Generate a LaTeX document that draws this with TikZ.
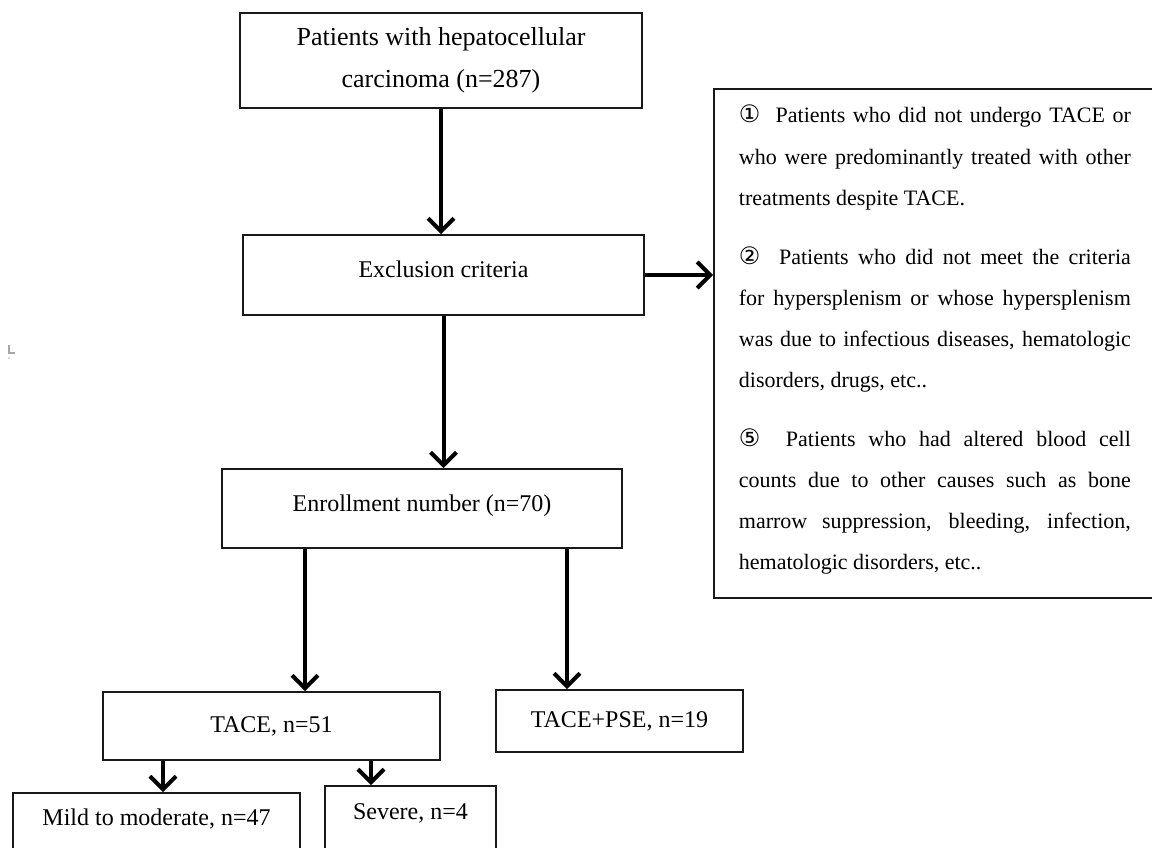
\documentclass[tikz,border=0pt]{standalone}
\usepackage{fontspec}
\setmainfont{Liberation Serif}
\newfontfamily\circfont{DejaVu Sans}
\usetikzlibrary{arrows.meta}
\newcommand\circd[1]{{\circfont\fontsize{24}{41.2}\selectfont #1}}
\begin{document}
\begin{tikzpicture}[x=1pt,y=-1pt,
  box/.style={draw=black!90, line width=1.8pt, rectangle, inner sep=0pt, align=center},
  flow/.style={line width=4pt, -{Straight Barb[length=13pt,width=26pt]}},
]
\useasboundingbox (0,0) rectangle (1152,847);
\clip (0,0) rectangle (1152,847);
\fill[white] (0,0) rectangle (1152,847);

% stray mark
\draw[gray!70, line width=1.2pt] (9,345) -- (9,353) -- (15,353);
\fill[gray!60] (9,358) circle (0.8);

\node[box, minimum width=402pt, minimum height=95pt, font=\fontsize{26}{42}\selectfont] (b1) at (441,60.5) {Patients with hepatocellular\\carcinoma (n=287)};

\node[box, minimum width=401pt, minimum height=80pt, text height=16pt, text depth=11pt, font=\fontsize{24}{30}\selectfont] (b2) at (443.5,275) {Exclusion criteria};

\node[box, minimum width=400pt, minimum height=79pt, text height=16pt, text depth=11pt, font=\fontsize{24}{30}\selectfont] (b3) at (422,508.5) {Enrollment number (n=70)};

\node[box, minimum width=337pt, minimum height=68pt, font=\fontsize{24}{30}\selectfont] (t1) at (271.5,726) {TACE, n=51};

\node[box, minimum width=247pt, minimum height=62pt, font=\fontsize{24}{30}\selectfont] (t2) at (619.5,721) {TACE+PSE, n=19};

\node[box, anchor=north, minimum width=287pt, text height=33pt, text depth=80pt, font=\fontsize{24}{30}\selectfont] (m1) at (156.5,792) {Mild to moderate, n=47};

\node[box, anchor=north, minimum width=171pt, text height=34pt, text depth=80pt, font=\fontsize{24}{30}\selectfont] (m2) at (410.5,785) {Severe, n=4};

\node[box, anchor=north west, inner xsep=25pt, inner ysep=0pt, font=\fontsize{22}{41.2}\selectfont] (ex) at (713,88) {\parbox[c][509pt][t]{392pt}{\setlength{\parindent}{0pt}\setlength{\parskip}{17.5pt}%
\rule{0pt}{34pt}\circd{①}\ \ Patients who did not undergo TACE or\linebreak who were predominantly treated with other\linebreak treatments despite TACE.\par
\circd{②}\ \ Patients who did not meet the criteria\linebreak for hypersplenism or whose hypersplenism\linebreak was due to infectious diseases, hematologic\linebreak disorders, drugs, etc..\par
\circd{⑤}\ \ Patients who had altered blood cell\linebreak counts due to other causes such as bone\linebreak marrow suppression, bleeding, infection,\linebreak hematologic disorders, etc..\par}};

\draw[flow] (b1.south) -- (b1.south |- b2.north);
\draw[flow] (b2.east) -- (b2.east -| ex.west);
\draw[flow] (b2.south) -- (b2.south |- b3.north);
\draw[flow] ([xshift=-117pt]b3.south) -- ([xshift=-117pt]b3.south |- t1.north);
\draw[flow] ([xshift=145pt]b3.south) -- ([xshift=145pt]b3.south |- t2.north);
\draw[flow] ([xshift=-108.5pt]t1.south) -- ([xshift=-108.5pt]t1.south |- m1.north);
\draw[flow] ([xshift=99.5pt]t1.south) -- ([xshift=99.5pt]t1.south |- m2.north);
\end{tikzpicture}
\end{document}
